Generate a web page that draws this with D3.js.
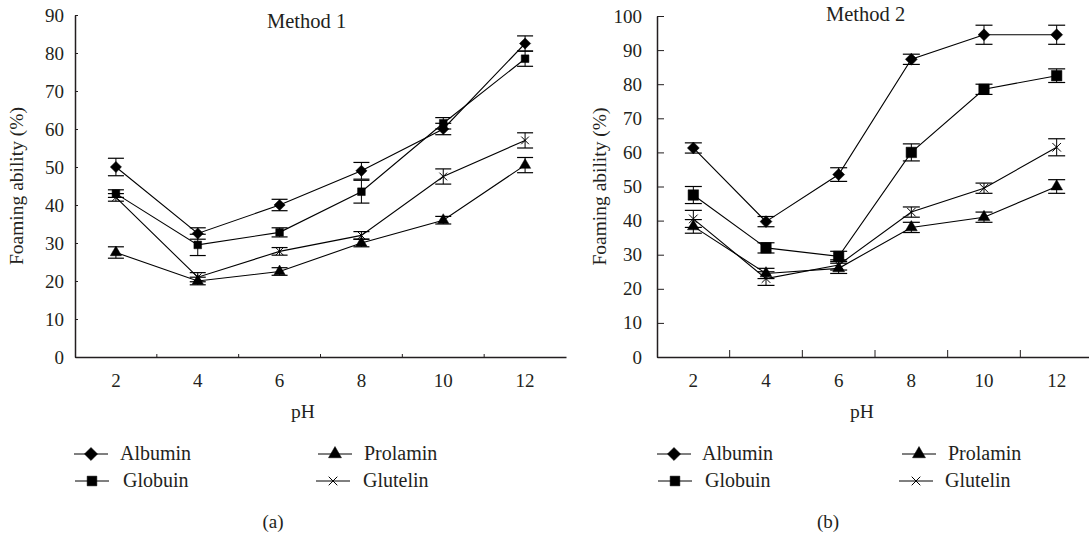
<!DOCTYPE html>
<html>
<head>
<meta charset="utf-8">
<script src="https://cdn.jsdelivr.net/npm/d3@7"></script>
<style>
  body { margin: 0; background: #fff; }
  svg text { font-family: "Liberation Serif", "DejaVu Serif", serif; fill: #231f20; }
</style>
</head>
<body>
<svg id="chart" width="1089" height="537"></svg>
<script>
/* pH categories shared by both panels */
const phLevels = ['2', '4', '6', '8', '10', '12']
const seriesNames = ['Albumin', 'Globuin', 'Prolamin', 'Glutelin']

/* Method 1: foaming ability (%) and error bars */
const m1Albumin = [50, 32.5, 40, 49, 60, 82.5]
const m1Globuin = [43, 29.5, 32.8, 43.5, 61.5, 78.5]
const m1Prolamin = [27.5, 20, 22.5, 30, 36, 50.5]
const m1Glutelin = [42, 21, 27.8, 32, 47.5, 57]
const m1AlbuminErr = [2.3, 1.5, 1.5, 2.2, 1.5, 2]
const m1GlobuinErr = [1, 2.8, 1.2, 3, 1.5, 2]
const m1ProlaminErr = [1.5, 1, 1, 1, 1, 2]
const m1GlutelinErr = [1, 1.2, 1, 1, 2, 2]

/* Method 2 */
const m2Albumin = [61.3, 39.7, 53.5, 87.3, 94.5, 94.5]
const m2Globuin = [47.5, 32, 29.5, 60, 78.5, 82.5]
const m2Prolamin = [38.3, 24.5, 26, 38, 41, 50]
const m2Glutelin = [40.5, 23, 27, 42.5, 49.5, 61.5]
const m2AlbuminErr = [1.5, 1.5, 2, 1.5, 2.8, 2.8]
const m2GlobuinErr = [2.5, 1.5, 1.5, 2.5, 1.5, 2]
const m2ProlaminErr = [2, 1.5, 1.5, 1.5, 1.5, 2]
const m2GlutelinErr = [2.5, 2, 1.5, 1.5, 1.5, 2.5]

const yTicks1 = [0, 10, 20, 30, 40, 50, 60, 70, 80, 90]
const yTicks2 = [0, 10, 20, 30, 40, 50, 60, 70, 80, 90, 100]

const svg = d3.select('#chart')

const symbolFor = {
  Albumin: { type: d3.symbolDiamond2, fill: '#000' },
  Globuin: { type: d3.symbolSquare2, fill: '#000' },
  Prolamin: { type: d3.symbolTriangle2, fill: '#000' },
  Glutelin: { type: d3.symbolX, fill: 'none' }
}

function drawMarker (g, name, x, y, size) {
  const s = symbolFor[name]
  g.append('path')
    .attr('transform', `translate(${x},${y})`)
    .attr('d', d3.symbol().type(s.type).size(size[name])())
    .attr('fill', s.fill)
    .attr('stroke', '#000')
    .attr('stroke-width', name === 'Glutelin' ? 1 : 0.5)
}

function drawPanel (p) {
  const g = svg.append('g')

  const x = d3.scaleBand().domain(phLevels).range([p.left, p.right])
  const y = d3.scaleLinear().domain([0, p.yMax]).range([p.bottom, p.top])

  /* axes, ticks pointing inwards */
  g.append('g')
    .attr('transform', `translate(${p.left},0)`)
    .call(d3.axisLeft(y).tickValues(p.yTicks).tickSizeInner(-p.tick).tickSizeOuter(0).tickPadding(p.tick + 8))
    .call(a => a.select('.domain').attr('stroke', '#231f20').attr('stroke-width', 1.5))
    .call(a => a.selectAll('.tick line').attr('stroke', '#231f20'))
    .call(a => a.attr('font-size', 19).attr('font-family', null))

  const xAxis = g.append('g')
    .attr('transform', `translate(0,${p.bottom})`)
    .call(d3.axisBottom(x).tickSize(0).tickPadding(17))
    .call(a => a.select('.domain').attr('stroke', '#231f20').attr('stroke-width', 1.5))
    .call(a => a.attr('font-size', 19).attr('font-family', null))

  /* category boundary ticks */
  xAxis.selectAll('line.bound')
    .data(phLevels.slice(1))
    .enter().append('line')
    .attr('class', 'bound')
    .attr('x1', d => x(d)).attr('x2', d => x(d))
    .attr('y1', 0).attr('y2', -p.tick)
    .attr('stroke', '#231f20')

  g.append('text')
    .attr('x', p.titleX).attr('y', p.titleY)
    .attr('font-size', 20.5)
    .text(p.title)

  g.append('text')
    .attr('transform', `translate(${p.yLabelX},${(p.top + p.bottom) / 2}) rotate(-90)`)
    .attr('text-anchor', 'middle')
    .attr('font-size', 19.5)
    .text('Foaming ability (%)')

  g.append('text')
    .attr('x', p.pHX).attr('y', 418)
    .attr('text-anchor', 'middle')
    .attr('font-size', 19.5)
    .text('pH')

  const cx = d => x(d) + x.bandwidth() / 2

  p.series.forEach(s => {
    const pts = phLevels.map((ph, i) => ({ ph, v: s.values[i], e: s.err[i] }))
    const sg = g.append('g')

    sg.append('path')
      .datum(pts)
      .attr('fill', 'none')
      .attr('stroke', '#000')
      .attr('stroke-width', 1.1)
      .attr('d', d3.line().x(d => cx(d.ph)).y(d => y(d.v)))

    pts.forEach(d => {
      const x0 = cx(d.ph)
      sg.append('line')
        .attr('x1', x0).attr('x2', x0)
        .attr('y1', y(d.v - d.e)).attr('y2', y(d.v + d.e))
        .attr('stroke', '#000')
      ;[d.v - d.e, d.v + d.e].forEach(v => {
        sg.append('line')
          .attr('x1', x0 - p.cap / 2).attr('x2', x0 + p.cap / 2)
          .attr('y1', y(v)).attr('y2', y(v))
          .attr('stroke', '#000')
          .attr('stroke-width', 1.2)
      })
      drawMarker(sg, s.name, x0, y(d.v), p.markerSize)
    })
  })

  /* legend */
  const lg = g.append('g')
  p.legend.forEach(l => {
    lg.append('line')
      .attr('x1', l.x).attr('x2', l.x + 34)
      .attr('y1', l.y).attr('y2', l.y)
      .attr('stroke', '#000')
    drawMarker(lg, l.name, l.x + 17, l.y, p.legendSize)
    lg.append('text')
      .attr('x', l.tx).attr('y', l.y + 6)
      .attr('font-size', 20)
      .text(l.name)
  })

  g.append('text')
    .attr('x', p.capX).attr('y', 528)
    .attr('text-anchor', 'middle')
    .attr('font-size', 19)
    .text(p.caption)
}

const legendSize = { Albumin: 110, Globuin: 120, Prolamin: 120, Glutelin: 50 }

drawPanel({
  left: 75, right: 566, top: 15, bottom: 357,
  yMax: 90, yTicks: yTicks1, tick: 3, cap: 16,
  title: 'Method 1', titleX: 267, titleY: 28,
  yLabelX: 23, pHX: 303, capX: 273, caption: '(a)',
  markerSize: { Albumin: 80, Globuin: 75, Prolamin: 90, Glutelin: 40 },
  legendSize,
  series: [
    { name: 'Albumin', values: m1Albumin, err: m1AlbuminErr },
    { name: 'Globuin', values: m1Globuin, err: m1GlobuinErr },
    { name: 'Prolamin', values: m1Prolamin, err: m1ProlaminErr },
    { name: 'Glutelin', values: m1Glutelin, err: m1GlutelinErr }
  ],
  legend: [
    { name: 'Albumin', x: 74, y: 454, tx: 120 },
    { name: 'Globuin', x: 75, y: 481, tx: 123 },
    { name: 'Prolamin', x: 318, y: 454, tx: 364 },
    { name: 'Glutelin', x: 316, y: 481, tx: 363 }
  ]
})

drawPanel({
  left: 657, right: 1093, top: 16, bottom: 357,
  yMax: 100, yTicks: yTicks2, tick: 7, cap: 17,
  title: 'Method 2', titleX: 826, titleY: 21,
  yLabelX: 606, pHX: 862, capX: 828, caption: '(b)',
  markerSize: { Albumin: 90, Globuin: 140, Prolamin: 100, Glutelin: 50 },
  legendSize,
  series: [
    { name: 'Albumin', values: m2Albumin, err: m2AlbuminErr },
    { name: 'Globuin', values: m2Globuin, err: m2GlobuinErr },
    { name: 'Prolamin', values: m2Prolamin, err: m2ProlaminErr },
    { name: 'Glutelin', values: m2Glutelin, err: m2GlutelinErr }
  ],
  legend: [
    { name: 'Albumin', x: 657, y: 454, tx: 702 },
    { name: 'Globuin', x: 658, y: 481, tx: 705 },
    { name: 'Prolamin', x: 902, y: 454, tx: 948 },
    { name: 'Glutelin', x: 899, y: 481, tx: 945 }
  ]
})
</script>
</body>
</html>
